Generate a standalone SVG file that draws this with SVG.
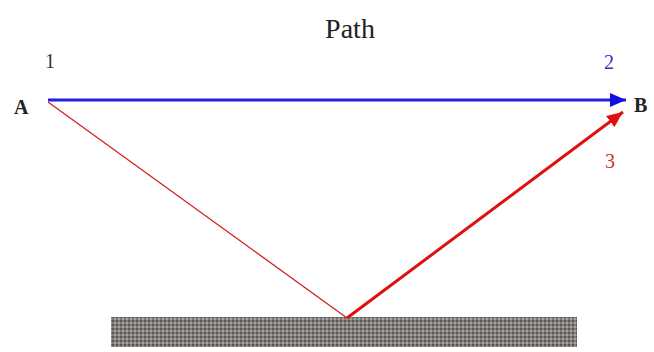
<svg xmlns="http://www.w3.org/2000/svg" width="654" height="352" viewBox="0 0 654 352">
<style>
.lbl{font-family:"Liberation Serif",serif;font-size:20px}
.b{font-weight:bold;fill:#222}
</style>
<defs>
<pattern id="hatch" width="4" height="4" patternUnits="userSpaceOnUse">
<rect width="4" height="4" fill="#857c7c"/>
<rect width="2" height="2" fill="#5e5454"/>
<rect x="2" y="2" width="2" height="2" fill="#98a49e"/>
</pattern>
<marker id="ab" markerWidth="16" markerHeight="14" refX="16" refY="7" orient="auto" markerUnits="userSpaceOnUse"><path d="M0,0 L16,7 L0,14 z" fill="#1010e0"/></marker>
<marker id="ar" markerWidth="16" markerHeight="14" refX="16" refY="7" orient="auto" markerUnits="userSpaceOnUse"><path d="M0,0 L16,7 L0,14 z" fill="#e01010"/></marker>
</defs>
<rect width="654" height="352" fill="#fff"/>
<text x="350" y="38" text-anchor="middle" font-family="Liberation Serif,serif" font-size="28" fill="#222">Path</text>
<g id="ground"><rect x="111" y="317" width="466" height="30" fill="url(#hatch)"/></g>
<g id="connectors">
<line x1="48" y1="100" x2="626" y2="100" stroke="#2020e0" stroke-width="3" marker-end="url(#ab)"/>
<polyline points="48,102 347,318" fill="none" stroke="#d02020" stroke-width="1.3"/>
<line x1="347" y1="318" x2="623" y2="112" stroke="#e01010" stroke-width="3" marker-end="url(#ar)"/>
</g>
<g id="A"><text x="14" y="114" class="lbl b">A</text></g>
<g id="B"><text x="634" y="112" class="lbl b">B</text></g>
<g id="l1"><text x="45" y="68" class="lbl" fill="#333">1</text></g>
<g id="l2"><text x="604" y="69" class="lbl" fill="#3030d0">2</text></g>
<g id="l3"><text x="605" y="168" class="lbl" fill="#d03030">3</text></g>
</svg>
